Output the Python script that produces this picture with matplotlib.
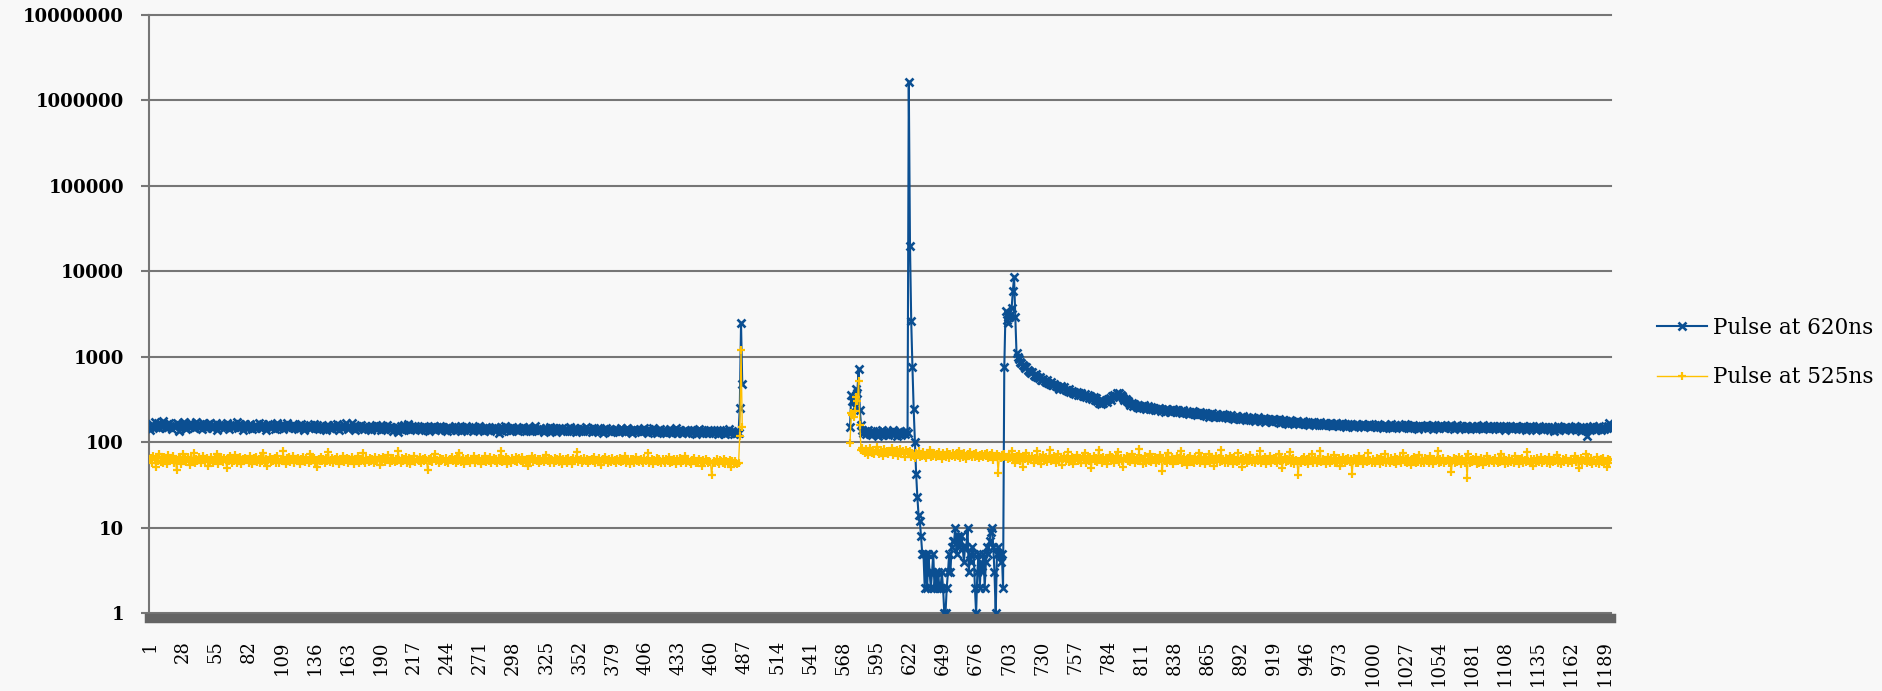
import numpy as np
import matplotlib
matplotlib.use('Agg')
import matplotlib.pyplot as plt
from matplotlib.ticker import FixedLocator, FuncFormatter, NullLocator

# categorias 1..1194, sem dados entre 486 e 572
n_cat = 1194
inicio_depois = 573
passo_rotulos = 27
nomes = ['Pulse at 620ns', 'Pulse at 525ns']

# Pulse at 620ns, categorias 1..485
azul_antes = [
    140, 158, 162, 150, 171, 149, 155, 166, 147, 160, 152, 175, 158, 146, 163, 151, 168, 154, 143, 161,
    157, 149, 170, 162, 137, 158, 153, 166, 171, 150, 144, 159, 163, 152, 168, 155, 147, 161, 174, 153,
    149, 162, 156, 143, 167, 158, 151, 145, 163, 170, 152, 148, 159, 155, 166, 141, 157, 161, 150, 164,
    158, 147, 153, 168, 155, 144, 160, 151, 163, 149, 157, 172, 146, 154, 162, 150, 139, 158, 165, 152,
    146, 159, 163, 150, 142, 155, 161, 148, 153, 167, 151, 145, 158, 162, 149, 140, 156, 164, 151, 147,
    160, 153, 142, 158, 166, 150, 147, 161, 155, 144, 159, 152, 168, 149, 145, 157, 153, 162, 148, 156,
    151, 143, 158, 147, 162, 154, 140, 149, 156, 152, 145, 160, 148, 153, 165, 146, 151, 158, 142, 155,
    150, 157, 144, 152, 139, 155, 161, 147, 150, 143, 158, 152, 146, 162, 149, 141, 155, 150, 147, 158,
    166, 151, 143, 149, 155, 170, 146, 152, 140, 157, 148, 145, 153, 161, 147, 143, 156, 150, 144, 152,
    148, 141, 155, 150, 145, 158, 143, 149, 153, 139, 147, 156, 144, 151, 160, 146, 142, 150, 148, 137,
    145, 152, 139, 133, 147, 155, 141, 149, 158, 144, 150, 163, 146, 140, 153, 148, 142, 157, 145, 151,
    143, 150, 138, 146, 155, 141, 148, 152, 136, 147, 144, 151, 157, 140, 146, 149, 143, 153, 138, 147,
    150, 141, 146, 137, 152, 145, 140, 148, 143, 155, 139, 146, 150, 142, 136, 149, 144, 141, 153, 145,
    138, 147, 142, 150, 135, 144, 149, 140, 146, 154, 139, 143, 148, 137, 145, 151, 141, 146, 134, 143,
    147, 140, 152, 138, 144, 130, 141, 149, 137, 145, 156, 139, 143, 148, 136, 142, 150, 138, 144, 146,
    140, 135, 147, 142, 138, 151, 143, 137, 145, 140, 149, 134, 142, 146, 139, 153, 141, 136, 144, 148,
    138, 144, 133, 141, 147, 139, 136, 150, 142, 137, 145, 140, 132, 143, 148, 138, 141, 146, 135, 142,
    144, 137, 140, 149, 134, 141, 138, 146, 131, 142, 139, 135, 147, 140, 137, 143, 152, 136, 141, 138,
    142, 133, 140, 145, 136, 139, 148, 134, 141, 137, 130, 143, 139, 146, 135, 140, 144, 132, 138, 141,
    135, 143, 138, 131, 140, 146, 136, 139, 133, 142, 148, 135, 137, 141, 129, 138, 144, 136, 140, 134,
    139, 132, 141, 136, 145, 134, 138, 130, 142, 137, 133, 147, 135, 139, 128, 140, 136, 143, 131, 137,
    133, 140, 129, 136, 131, 142, 135, 127, 138, 134, 145, 130, 136, 139, 132, 128, 137, 141, 133, 135,
    130, 137, 141, 128, 134, 139, 126, 135, 131, 144, 133, 129, 136, 138, 127, 134, 140, 130, 132, 137,
    128, 135, 131, 138, 124, 133, 140, 129, 134, 130, 126, 137, 132, 143, 128, 131, 136, 125, 133, 130,
    128, 130, 255, 2450, 480,
]

# Pulse at 620ns, categorias 573..1194
azul_depois = [
    150, 360, 300, 320, 260, 420, 380, 710, 240, 160, 140,
    128, 135, 124, 131, 140, 126, 133, 122, 137, 129, 125, 134, 119, 130, 127, 138, 123, 131, 126, 135,
    121, 129, 133, 124, 139, 127, 130, 120, 132, 126, 136, 123, 128, 131, 125, 134, 130,
    1650000, 20000, 2600, 750, 245, 100, 43, 23, 14, 12, 8, 5,
    5, 2, 5, 2, 5, 3, 2, 3, 5, 2,
    3, 2, 3, 2, 2, 3, 2, 1, 1, 2,
    3, 5, 3, 6, 7, 7, 10, 5, 8, 6,
    7, 8, 6, 4, 6, 6, 10, 3, 5, 4,
    6, 5, 2, 1, 3, 5, 2, 4, 3, 5,
    2, 4, 6, 5, 7, 9, 10, 6, 3, 1,
    5, 6, 5, 4, 5, 2,
    750, 3400, 2700, 2500, 2900, 3100, 3700, 5900, 8600, 2900, 1100, 1000, 930, 880,
    845, 800, 770, 735, 760, 700, 690, 655,
    640, 665, 610, 600, 625, 580, 560, 575, 540, 530,
    555, 515, 505, 530, 490, 480, 500, 470, 465, 485,
    450, 460, 440, 425, 455, 430, 415, 440, 405, 410,
    395, 420, 385, 400, 375, 390, 370, 385, 360, 375,
    355, 380, 350, 345, 365, 340, 355, 330, 350, 335,
    320, 340, 310, 325, 300, 290, 305, 280, 295, 285,
    300, 310, 295, 320, 330, 315, 345, 335, 360, 350,
    375, 365, 380, 355, 345, 330, 315, 320, 300, 305,
    290, 275, 285, 265, 280, 270, 260, 275, 255, 268, 262, 250, 270, 258, 245, 263, 252, 248, 260, 244,
    255, 240, 248, 236, 250, 242, 232, 247, 238, 229, 244, 236, 241, 226, 239, 233, 245, 230, 237, 228,
    236, 224, 231, 220, 238, 226, 218, 229, 222, 214, 227, 219, 233, 216, 224, 210, 221, 215, 226, 212,
    218, 209, 221, 205, 214, 200, 211, 206, 217, 198, 208, 213, 202, 196, 210, 204, 199, 212, 195, 203,
    206, 193, 199, 210, 190, 197, 186, 202, 194, 191, 185, 198, 189, 204, 192, 183, 196, 188, 193, 180,
    190, 185, 192, 178, 187, 195, 182, 176, 189, 184, 191, 174, 186, 180, 188, 177, 183, 172, 185, 179,
    182, 175, 186, 170, 179, 174, 183, 168, 177, 172, 165, 180, 171, 176, 169, 174, 166, 178, 170, 163,
    172, 166, 175, 162, 169, 164, 171, 158, 167, 173, 163, 168, 160, 170, 165, 161, 174, 164, 159, 167,
    162, 170, 158, 165, 160, 167, 155, 163, 159, 166, 161, 154, 164, 158, 168, 157, 162, 152, 160, 165,
    158, 163, 155, 161, 150, 159, 164, 156, 160, 153, 162, 157, 149, 158, 161, 155, 163, 152, 157, 160,
    154, 158, 149, 162, 155, 151, 157, 146, 159, 153, 160, 150, 156, 152, 163, 148, 155, 158, 150, 154,
    157, 151, 160, 147, 155, 162, 149, 153, 158, 145, 154, 150, 161, 148, 156, 152, 143, 157, 151, 155,
    149, 156, 152, 160, 147, 153, 150, 158, 144, 155, 151, 148, 157, 146, 153, 159, 149, 152, 145, 156,
    150, 154, 147, 158, 151, 143, 155, 149, 161, 148, 152, 146, 156, 150, 144, 153, 157, 147, 151, 149,
    155, 148, 152, 142, 157, 150, 146, 154, 149, 160, 145, 151, 148, 156, 143, 152, 147, 155, 150, 146,
    153, 148, 144, 156, 150, 147, 152, 141, 155, 149, 146, 154, 150, 143, 152, 148, 157, 145, 151, 147,
    150, 144, 153, 148, 139, 152, 147, 155, 143, 149, 151, 145, 138, 150, 146, 153, 142, 148, 151, 144,
    149, 143, 152, 146, 140, 150, 145, 136, 148, 144, 153, 141, 147, 150, 143, 146, 139, 151, 145, 148,
    144, 150, 142, 147, 153, 139, 146, 143, 151, 137, 145, 149, 141, 147, 118, 144, 150, 142, 148, 153,
    146, 140, 149, 143, 155, 138, 147, 151, 142, 148, 145, 156, 168, 150,
]

# Pulse at 525ns, categorias 1..485
amarelo_antes = [
    62, 66, 58, 70, 64, 52, 67, 61, 73, 59, 65, 57, 68, 63, 55, 71, 60, 66, 62, 69,
    58, 64, 47, 61, 67, 63, 56, 72, 60, 65, 59, 68, 62, 54, 66, 61, 75, 58, 63, 60,
    67, 62, 57, 64, 70, 59, 63, 66, 53, 61, 68, 62, 58, 65, 60, 73, 56, 63, 67, 61,
    59, 65, 62, 50, 66, 61, 69, 58, 63, 60, 71, 57, 64, 62, 67, 55, 63, 60, 66, 62,
    64, 58, 70, 61, 56, 65, 62, 68, 59, 63, 57, 66, 61, 74, 60, 64, 53, 62, 67, 59,
    63, 61, 66, 57, 69, 62, 58, 64, 60, 78, 62, 56, 65, 61, 67, 59, 63, 70, 58, 62,
    60, 66, 62, 55, 64, 68, 61, 59, 65, 62, 57, 72, 60, 63, 66, 58, 62, 51, 64, 61,
    67, 60, 63, 58, 65, 61, 76, 59, 62, 66, 57, 63, 60, 68, 62, 55, 64, 61, 70, 59,
    62, 65, 58, 63, 60, 67, 61, 56, 64, 62, 69, 58, 63, 60, 74, 61, 57, 65, 62, 59,
    66, 61, 63, 57, 68, 60, 62, 65, 54, 63, 61, 67, 59, 64, 62, 71, 58, 63, 60, 66,
    59, 64, 61, 79, 62, 57, 65, 60, 63, 68, 58, 62, 66, 55, 63, 61, 69, 59, 64, 62,
    61, 67, 58, 63, 60, 65, 62, 48, 64, 61, 66, 59, 63, 72, 60, 62, 57, 65, 61, 64,
    63, 59, 66, 61, 57, 64, 62, 68, 60, 63, 58, 65, 61, 75, 59, 62, 66, 56, 63, 60,
    65, 61, 58, 64, 62, 69, 57, 63, 60, 66, 61, 55, 64, 62, 70, 59, 63, 61, 67, 58,
    62, 66, 60, 63, 57, 65, 61, 80, 59, 63, 62, 67, 56, 64, 61, 58, 65, 62, 60, 68,
    59, 63, 65, 61, 67, 58, 62, 60, 64, 53, 63, 61, 69, 59, 62, 66, 60, 63, 57, 64,
    61, 65, 59, 62, 71, 60, 63, 57, 64, 62, 58, 66, 61, 63, 59, 68, 62, 55, 64, 60,
    63, 58, 66, 61, 62, 56, 65, 60, 63, 77, 59, 62, 64, 57, 61, 66, 60, 63, 58, 62,
    60, 64, 61, 67, 58, 62, 59, 65, 61, 54, 63, 60, 68, 62, 57, 64, 61, 59, 66, 60,
    62, 57, 64, 60, 66, 59, 63, 61, 70, 58, 62, 60, 55, 64, 61, 63, 58, 67, 60, 62,
    59, 63, 61, 57, 65, 60, 62, 74, 58, 61, 64, 56, 62, 60, 66, 59, 63, 61, 57, 64,
    61, 58, 63, 60, 67, 57, 62, 59, 64, 61, 55, 63, 60, 66, 58, 62, 60, 69, 57, 61,
    63, 59, 56, 62, 60, 65, 58, 61, 57, 63, 60, 53, 62, 58, 64, 60, 57, 61, 59, 41,
    58, 61, 57, 63, 59, 55, 62, 60, 58, 64, 56, 61, 59, 57, 62, 52, 60, 58, 61, 57,
    55, 57, 120, 1210, 150,
]

# Pulse at 525ns, categorias 573..1194
amarelo_depois = [
    97, 220, 210, 200, 230, 335, 300, 520, 160, 82, 85,
    80, 74, 83, 77, 71, 86, 79, 75, 82, 73, 78, 88, 76, 72, 81, 77, 69, 84, 75, 79,
    73, 80, 76, 85, 71, 78, 74, 82, 70, 77, 83, 73, 79, 75, 68, 81, 76,
    72, 78, 68, 74, 70, 66, 75, 71, 79, 67, 73, 69, 76, 70, 65, 74, 71, 82, 68, 72,
    70, 75, 67, 73, 69, 77, 71, 64, 74, 70, 68, 76, 72, 66, 73, 69, 75, 71, 67, 74,
    70, 79, 66, 72, 68, 74, 70, 63, 73, 69, 76, 71, 67, 72, 68, 74, 70, 66, 71, 69,
    73, 67, 72, 69, 75, 66, 71, 68, 74, 62, 70, 67, 72, 44, 69, 66, 71, 68, 73, 67,
    68, 63, 71, 65, 80, 62, 67, 58, 70, 64, 73, 61, 66, 52, 69, 63, 75, 60, 67, 64,
    62, 70, 57, 66, 63, 78, 61, 68, 55, 65, 71, 62, 67, 59, 64, 82, 60, 66, 63, 69,
    58, 65, 72, 61, 67, 54, 63, 70, 60, 66, 77, 59, 64, 68, 56, 65, 62, 71, 60, 66,
    63, 58, 69, 62, 74, 57, 65, 61, 67, 50, 64, 70, 60, 66, 59, 81, 62, 65, 58, 68,
    61, 66, 55, 64, 71, 60, 67, 63, 58, 69, 62, 76, 59, 65, 61, 52, 66, 63, 70, 60,
    64, 59, 72, 62, 67, 57, 65, 61, 84, 60, 66, 55, 63, 69, 58, 64, 61, 73, 59, 65,
    62, 68, 57, 64, 60, 71, 63, 46, 66, 61, 65, 58, 74, 62, 60, 67, 56, 64, 61, 69,
    60, 65, 79, 58, 63, 67, 61, 54, 66, 62, 70, 59, 64, 57, 68, 61, 63, 75, 58, 65,
    61, 67, 56, 64, 60, 72, 58, 63, 66, 53, 62, 69, 60, 65, 59, 82, 61, 64, 57, 66,
    63, 58, 70, 61, 65, 56, 67, 62, 59, 74, 60, 64, 52, 66, 61, 68, 58, 63, 60, 71,
    59, 65, 62, 57, 68, 61, 64, 78, 58, 63, 60, 67, 55, 64, 61, 69, 57, 62, 66, 60,
    63, 58, 72, 61, 65, 50, 62, 67, 59, 64, 60, 76, 58, 63, 66, 56, 62, 60, 41, 61,
    57, 64, 61, 68, 59, 63, 55, 66, 60, 73, 58, 62, 65, 57, 63, 61, 80, 59, 64, 60,
    62, 56, 67, 61, 58, 64, 60, 71, 57, 63, 59, 66, 53, 62, 60, 68, 58, 63, 61, 65,
    59, 64, 42, 61, 66, 58, 62, 57, 70, 60, 63, 56, 65, 61, 59, 74, 60, 62, 57, 64,
    61, 58, 66, 60, 63, 55, 67, 59, 62, 72, 58, 64, 60, 57, 65, 61, 59, 68, 56, 63,
    60, 66, 58, 62, 75, 59, 63, 57, 65, 61, 54, 64, 60, 67, 58, 62, 59, 71, 57, 63,
    61, 57, 65, 60, 63, 58, 69, 61, 56, 64, 60, 62, 78, 58, 63, 59, 66, 57, 61, 60,
    64, 58, 62, 45, 60, 66, 57, 63, 59, 68, 61, 56, 64, 60, 58, 65, 38, 73, 57, 62,
    59, 63, 60, 67, 56, 62, 58, 65, 60, 54, 63, 59, 70, 61, 57, 64, 60, 62, 58, 66,
    61, 57, 64, 59, 72, 60, 63, 55, 62, 58, 66, 61, 59, 64, 57, 69, 60, 62, 56, 63,
    60, 65, 58, 62, 59, 76, 61, 57, 64, 60, 53, 63, 58, 66, 61, 59, 68, 57, 62, 60,
    63, 58, 61, 67, 56, 62, 59, 65, 60, 71, 57, 63, 61, 55, 64, 59, 62, 66, 58, 61,
    60, 64, 57, 62, 69, 59, 63, 50, 61, 66, 58, 62, 60, 73, 57, 63, 59, 65, 56, 61,
    62, 58, 67, 60, 55, 63, 59, 66, 57, 61, 52, 64, 58, 62,
]


def montar_serie(antes, depois):
    y = np.full(n_cat, np.nan)
    y[:len(antes)] = antes
    resto = depois[:n_cat - inicio_depois + 1]
    y[inicio_depois - 1:inicio_depois - 1 + len(resto)] = resto
    return y


x = np.arange(1, n_cat + 1)
azul = montar_serie(azul_antes, azul_depois)
amarelo = montar_serie(amarelo_antes, amarelo_depois)

fundo = '#f8f8f8'
cinza = '#767676'

fig = plt.figure(figsize=(18.83, 6.91), dpi=100, facecolor=fundo)
ax = fig.add_axes([149 / 1883, 1 - 613.3 / 691, (1611 - 149) / 1883, (613.3 - 14.7) / 691])
ax.set_facecolor('none')

ax.plot(x, azul, color='#0b4f92', lw=1.5, marker='x', ms=5.5, mew=1.9, label=nomes[0], zorder=3)
ax.plot(x, amarelo, color='#ffc000', lw=1.0, marker='+', ms=6, mew=1.6, label=nomes[1], zorder=4)

ax.set_yscale('log')
ax.set_ylim(1, 1e7)
ax.set_xlim(0.5, n_cat + 0.5)

ax.yaxis.set_major_locator(FixedLocator([10 ** k for k in range(8)]))
ax.yaxis.set_minor_locator(NullLocator())
ax.yaxis.set_major_formatter(FuncFormatter(lambda v, p: '%d' % round(v)))
ax.grid(axis='y', color=cinza, lw=1.5)
ax.set_axisbelow(True)
for g in ax.get_ygridlines():
    g.set_clip_on(False)

ax.xaxis.set_major_locator(FixedLocator(list(range(1, n_cat + 1, passo_rotulos))))
ax.xaxis.set_minor_locator(NullLocator())

for s in ['top', 'right']:
    ax.spines[s].set_visible(False)
ax.spines['left'].set_color(cinza)
ax.spines['left'].set_linewidth(1.5)
ax.spines['bottom'].set_color('#646464')
ax.spines['bottom'].set_linewidth(6.8)
ax.spines['bottom'].set_position(('outward', 3.4))

ax.tick_params(axis='y', length=6, width=1.5, color=cinza, pad=12)
ax.tick_params(axis='x', length=0, pad=16)
for t in ax.get_yticklabels():
    t.set_fontfamily('DejaVu Serif')
    t.set_fontweight('bold')
    t.set_fontsize(13)
for t in ax.get_xticklabels():
    t.set_fontfamily('DejaVu Serif')
    t.set_fontsize(13)
    t.set_rotation(90)

fig.legend(loc='center left', bbox_to_anchor=(1657 / 1883, 1 - 352.5 / 691),
           frameon=False, numpoints=1, borderpad=0, borderaxespad=0,
           handlelength=2.3, handletextpad=0.28, labelspacing=1.3,
           prop={'family': 'DejaVu Serif', 'size': 15.5})

fig.savefig('out.png', dpi=100, facecolor=fundo)
